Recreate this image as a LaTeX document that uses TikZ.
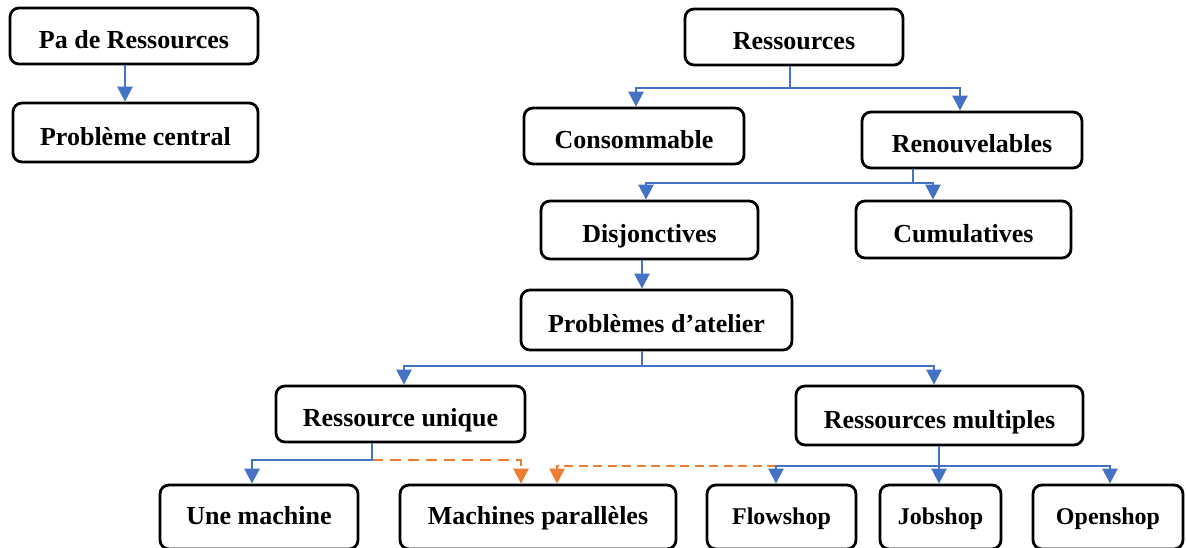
\documentclass[tikz,border=0pt]{standalone}
\usepackage{fontspec}
\setmainfont{Liberation Serif}
\usetikzlibrary{arrows.meta}
\definecolor{linkblue}{HTML}{4472C4}
\definecolor{linkorange}{HTML}{ED7D31}
\begin{document}
\begin{tikzpicture}[x=1pt,y=-1pt,
  box/.style={draw=black, line width=2.8pt, rounded corners=9pt, fill=white,
    inner sep=0pt, font=\bfseries\fontsize{26}{30}\selectfont,
    text height=25pt, text depth=0pt, align=center},
  lowbox/.style={box, text height=15pt},
  smallbox/.style={lowbox, font=\bfseries\fontsize{24}{28}\selectfont},
  tip/.style={-{Triangle[length=15pt,width=15pt]}},
  plain/.style={draw=linkblue, line width=2.7pt},
  link/.style={plain, tip},
  optlink/.style={draw=linkorange, line width=2.7pt, dash pattern=on 11pt off 7pt, tip}]

\useasboundingbox (0,0) rectangle (1186,547);
\clip (0,0) rectangle (1186,547);

% left: standalone pair
\node[box, minimum width=248pt, minimum height=56pt] (pa) at (134,36) {Pa de Ressources};
\node[box, minimum width=245pt, minimum height=59pt] (pc) at (135.5,132.5) {Problème central};

% resource hierarchy
\node[box, minimum width=218pt, minimum height=56pt] (res) at (794,37) {Ressources};
\node[box, minimum width=220pt, minimum height=56pt] (cons) at (634,136) {Consommable};
\node[box, minimum width=220pt, minimum height=56pt] (ren) at (972,140) {Renouvelables};
\node[box, minimum width=217pt, minimum height=58pt] (dis) at (649.5,230) {Disjonctives};
\node[box, minimum width=215pt, minimum height=57pt] (cum) at (963.5,229.5) {Cumulatives};
\node[box, minimum width=271pt, minimum height=60pt] (pat) at (656.5,320) {Problèmes d’atelier};
\node[box, minimum width=249pt, minimum height=56pt] (ru) at (400.5,414) {Ressource unique};
\node[box, minimum width=287pt, minimum height=59pt] (rm) at (939.5,415.5) {Ressources multiples};

% bottom row
\node[lowbox, minimum width=198pt, minimum height=64pt] (um) at (259,517) {Une machine};
\node[lowbox, minimum width=276pt, minimum height=64pt] (mp) at (538,517) {Machines parallèles};
\node[smallbox, minimum width=149pt, minimum height=64pt] (fs) at (781.5,517) {Flowshop};
\node[smallbox, minimum width=121pt, minimum height=64pt] (js) at (940.5,517) {Jobshop};
\node[smallbox, minimum width=150pt, minimum height=64pt] (os) at (1108,517) {Openshop};

% junction points
\coordinate (jA) at (790,88);
\coordinate (jB) at (913,183);
\coordinate (jC) at (642,366);
\coordinate (jD) at (372,460);
\coordinate (jF) at (939,466);
\coordinate (jG) at (776,466);

% connectors
\draw[link] (pa.south -| 125,0) -- (pc.north -| 125,0);

\draw[link] (res.south -| jA) -- (jA) -| (cons.north -| 636,0);
\draw[link] (jA) -| (ren.north -| 960,0);

\draw[link] (ren.south -| jB) -- (jB) -| (dis.north -| 646,0);
\draw[link] (jB) -| (cum.north -| 933,0);

\draw[link] (dis.south -| 642,0) -- (pat.north -| 642,0);

\draw[link] (pat.south -| jC) -- (jC) -| (ru.north -| 404,0);
\draw[link] (jC) -| (rm.north -| 934,0);

\draw[optlink] (jD) -| (mp.north -| 521,0);
\draw[optlink, dash pattern=on 9pt off 5.5pt] (jG) -| (mp.north -| 557,0);

\draw[link] (ru.south -| jD) -- (jD) -| (um.north -| 252,0);

\draw[link] (rm.south -| jF) -- (js.north -| jF);
\draw[link] (jF) -| (fs.north -| jG);
\draw[link] (jF) -| (os.north -| 1110,0);
\end{tikzpicture}
\end{document}
